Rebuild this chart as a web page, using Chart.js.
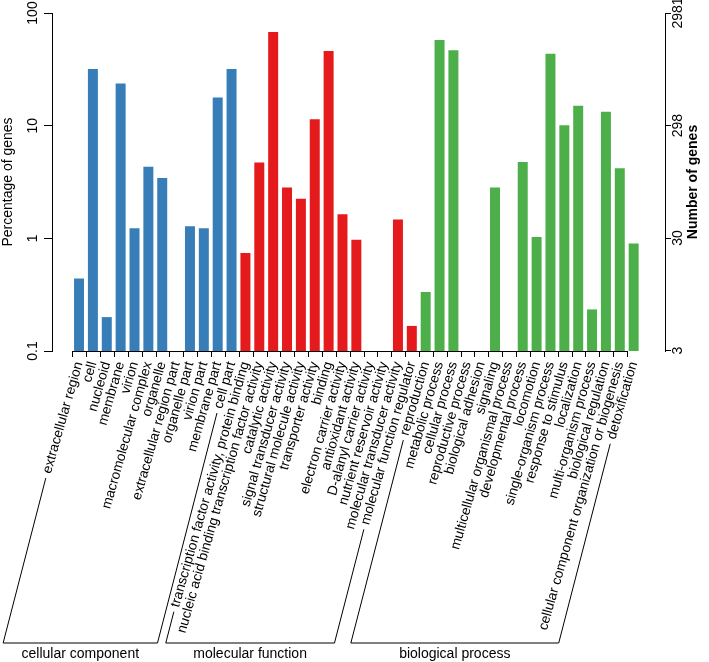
<!DOCTYPE html>
<html>
<head>
<meta charset="utf-8">
<script src="https://cdn.jsdelivr.net/npm/chart.js@4/dist/chart.umd.min.js"></script>
<style>
  body { margin: 0; background: #fff; }
</style>
</head>
<body>
<canvas id="goChart" width="709" height="662"></canvas>
<script>
const categories = [
    "extracellular region", "cell", "nucleoid", "membrane", "virion",
    "macromolecular complex", "organelle", "extracellular region part",
    "organelle part", "virion part", "membrane part", "cell part",
    "transcription factor activity, protein binding",
    "nucleic acid binding transcription factor activity",
    "catalytic activity", "signal transducer activity",
    "structural molecule activity", "transporter activity", "binding",
    "electron carrier activity", "antioxidant activity",
    "D-alanyl carrier activity", "nutrient reservoir activity",
    "molecular transducer activity", "molecular function regulator",
    "reproduction", "metabolic process", "cellular process",
    "reproductive process", "biological adhesion", "signaling",
    "multicellular organismal process", "developmental process",
    "locomotion", "single-organism process", "response to stimulus",
    "localization", "multi-organism process", "biological regulation",
    "cellular component organization or biogenesis", "detoxification"
];

// percentage of genes, null where there is no bar
const percentValues = [
    0.44, 31.8, 0.2, 23.7, 1.23, 4.32, 3.43, null, 1.28, 1.23, 17.8, 31.8,
    0.74, 4.72, 67.7, 2.83, 2.25, 11.4, 45.9, 1.64, 0.97, null, null, 1.47, 0.167,
    0.334, 57.5, 46.6, null, null, 2.83, null, 4.75, 1.03, 43.5, 10.1, 15.0, 0.234, 13.3, 4.18, 0.9
];

const groupNames = ["cellular component", "molecular function", "biological process"];
const groupSizes = [12, 13, 16];
const groupColors = ["#377EB8", "#E41A1C", "#4DAF4A"];

const leftTicks = [0.1, 1, 10, 100];
const leftTickLabels = ["0.1", "1", "10", "100"];
const rightTicks = [3, 30, 298, 2981];
const rightTickLabels = ["3", "30", "298", "2981"];

const FONT = "'Liberation Sans', Arial, Helvetica, sans-serif";
const LABEL_SIZE = 13.7;

const barColors = [];
groupSizes.forEach((n, g) => {
    for (let k = 0; k < n; k++) barColors.push(groupColors[g]);
});
const points = percentValues.map((v, i) => ({ x: i, y: v }));

// axis line under the bars, group brackets and the right title
const extras = {
    id: "extras",
    afterDraw(chart) {
        const ctx = chart.ctx;
        const xs = chart.scales.x;
        const area = chart.chartArea;
        ctx.save();
        ctx.strokeStyle = "#000";
        ctx.fillStyle = "#000";
        ctx.lineWidth = 1;

        ctx.beginPath();
        const x0 = xs.getPixelForValue(-0.48);
        const x1 = xs.getPixelForValue(categories.length - 1.48);
        ctx.moveTo(x0, area.bottom + 0.5);
        ctx.lineTo(x1, area.bottom + 0.5);
        for (let i = 0; i < categories.length; i++) {
            const px = Math.round(xs.getPixelForValue(i - 0.48)) + 0.5;
            ctx.moveTo(px, area.bottom);
            ctx.lineTo(px, area.bottom + 6);
        }
        ctx.stroke();

        const items = xs.getLabelItems();
        const baseY = 643;
        const lineAngle = 75.5 * Math.PI / 180;
        ctx.font = LABEL_SIZE + "px " + FONT;
        const startOf = (i) => {
            const it = items[i];
            const [tx, ty] = it.options.translation;
            const r = it.options.rotation;
            const w = ctx.measureText(it.label).width + 5;
            const off = it.textOffset;
            return [tx - Math.cos(r) * w - Math.sin(r) * off, ty - Math.sin(r) * w + Math.cos(r) * off];
        };
        const down = (p) => [p[0] - (baseY - p[1]) / Math.tan(lineAngle), baseY];

        ctx.font = "14px " + FONT;
        let s = 0;
        groupSizes.forEach((n, g) => {
            ctx.font = LABEL_SIZE + "px " + FONT;
            const a = startOf(s);
            const b = startOf(s + n - 1);
            const a2 = down(a);
            const b2 = down(b);
            ctx.beginPath();
            ctx.moveTo(a[0], a[1]);
            ctx.lineTo(a2[0], a2[1]);
            ctx.lineTo(b2[0], b2[1]);
            ctx.lineTo(b[0], b[1]);
            ctx.stroke();
            ctx.font = "14px " + FONT;
            ctx.textAlign = "center";
            ctx.textBaseline = "middle";
            ctx.fillText(groupNames[g], (a2[0] + b2[0]) / 2, 654);
            s += n;
        });

        ctx.translate(693, (area.top + area.bottom) / 2);
        ctx.rotate(-Math.PI / 2);
        ctx.font = "bold 14px " + FONT;
        ctx.textAlign = "center";
        ctx.textBaseline = "middle";
        ctx.fillText("Number of genes", 0, 0);
        ctx.restore();
    }
};

new Chart(document.getElementById("goChart"), {
    type: "bar",
    data: {
        datasets: [{
            data: points,
            backgroundColor: barColors,
            borderWidth: 0,
            barPercentage: 0.72,
            categoryPercentage: 1
        }]
    },
    options: {
        responsive: false,
        animation: false,
        devicePixelRatio: 1,
        layout: { padding: { top: 13, left: 0, right: 0, bottom: 0 } },
        plugins: { legend: { display: false }, tooltip: { enabled: false } },
        scales: {
            x: {
                type: "linear",
                offset: false,
                min: -1.95,
                max: 42.26,
                grid: { display: false },
                border: { display: false },
                afterBuildTicks: (s) => { s.ticks = categories.map((_, i) => ({ value: i })); },
                afterFit: (s) => { s.height = 311; },
                ticks: {
                    autoSkip: false,
                    minRotation: 74,
                    maxRotation: 74,
                    padding: 2,
                    color: "#000",
                    font: { family: FONT, size: LABEL_SIZE, lineHeight: 0.6 },
                    callback: (v) => categories[v]
                }
            },
            y: {
                type: "logarithmic",
                position: "left",
                min: leftTicks[0],
                max: leftTicks[leftTicks.length - 1],
                afterBuildTicks: (s) => { s.ticks = leftTicks.map((v) => ({ value: v })); },
                afterFit: (s) => { s.width = 52; },
                grid: { drawOnChartArea: false, tickLength: 8, color: "#000" },
                border: { display: true, color: "#000", width: 1 },
                ticks: {
                    minRotation: 90,
                    maxRotation: 90,
                    crossAlign: "center",
                    padding: -1,
                    color: "#000",
                    font: { family: FONT, size: 14 },
                    callback: (v, i) => leftTickLabels[i]
                },
                title: {
                    display: true,
                    text: "Percentage of genes",
                    color: "#000",
                    padding: 0,
                    font: { family: FONT, size: 14 }
                }
            },
            y2: {
                type: "logarithmic",
                position: "right",
                min: rightTicks[3] / 1000,
                max: rightTicks[3],
                afterBuildTicks: (s) => { s.ticks = rightTicks.map((v) => ({ value: v })); },
                afterFit: (s) => { s.width = 44; },
                grid: { drawOnChartArea: false, tickLength: 6, color: "#000" },
                border: { display: true, color: "#000", width: 1 },
                ticks: {
                    minRotation: 90,
                    maxRotation: 90,
                    crossAlign: "center",
                    padding: -8.6,
                    color: "#000",
                    font: { family: FONT, size: 14 },
                    callback: (v, i) => rightTickLabels[i]
                }
            }
        }
    },
    plugins: [extras]
});
</script>
</body>
</html>
